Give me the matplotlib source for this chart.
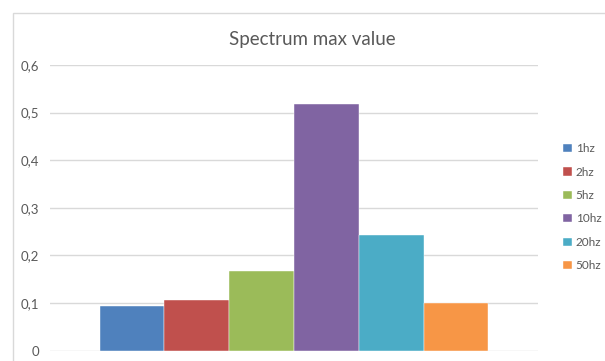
import numpy as np
import matplotlib
matplotlib.use("Agg")
import matplotlib.pyplot as plt
from matplotlib.patches import Rectangle
from matplotlib.ticker import FuncFormatter

# series of the single category
labels = ["1hz", "2hz", "5hz", "10hz", "20hz", "50hz"]
values = [0.094, 0.106, 0.167, 0.517, 0.243, 0.100]
colors = ["#4F81BD", "#C0504D", "#9BBB59", "#8064A2", "#4BACC6", "#F79646"]

TEXT = "#595959"
GRID = "#D9D9D9"

plt.rcParams["font.family"] = ["Lato", "DejaVu Sans"]

fig = plt.figure(figsize=(6.05, 3.61), dpi=100)
fig.patch.set_facecolor("white")
ax = fig.add_axes([50 / 605, 1 - 350.5 / 361, 488 / 605, (350.5 - 65) / 361])

# chart border
fig.add_artist(Rectangle((13 / 605, -0.1), 1.2, 1.1 - 13 / 361,
                         transform=fig.transFigure, fill=False,
                         edgecolor=GRID, linewidth=1.0))

x = np.arange(len(values))
for i in range(len(values)):
    ax.bar(x[i], values[i], width=1.0, color=colors[i], label=labels[i],
           edgecolor="white", linewidth=0.3, zorder=3)

ax.set_ylim(0, 0.6)
ax.set_xlim(-1.2635, 6.2635)
ax.set_yticks(np.arange(0, 0.61, 0.1))
ax.yaxis.set_major_formatter(FuncFormatter(
    lambda v, p: "0" if abs(v) < 1e-9 else f"{v:.1f}".replace(".", ",")))
ax.set_xticks([])
ax.tick_params(axis="y", length=0, pad=8, labelsize=9.5, labelcolor=TEXT)
ax.grid(axis="y", color=GRID, linewidth=1.0, zorder=0)
for s in ax.spines.values():
    s.set_visible(False)

fig.text(0.516, 1 - 40 / 361, "Spectrum max value", ha="center", va="center",
         fontsize=13.5, color=TEXT)

leg = ax.legend(loc="center left", bbox_to_anchor=(1.03, 0.502), frameon=False,
                handlelength=0.7, handleheight=0.7, handletextpad=0.35,
                labelspacing=1.05, fontsize=8.5)
for t in leg.get_texts():
    t.set_color(TEXT)

fig.savefig("out.png", dpi=100)
